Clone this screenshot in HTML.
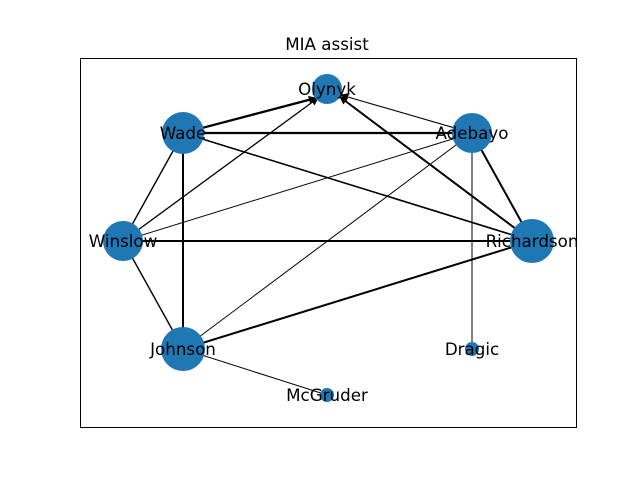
<!DOCTYPE html>
<html><head><meta charset="utf-8"><style>
html,body{margin:0;padding:0;background:#fff;}
svg{display:block;font-family:"DejaVu Sans","Liberation Sans",sans-serif;}
</style></head><body>
<svg width="640" height="480" viewBox="0 0 640 480" xmlns="http://www.w3.org/2000/svg">
<defs>
<marker id="b" viewBox="0 0 10 10" refX="9" refY="5" markerWidth="8" markerHeight="8" markerUnits="userSpaceOnUse" orient="auto">
<path d="M0,0 L10,5 L0,10 z" fill="#000"/></marker>
</defs>
<rect width="640" height="480" fill="#fff"/>
<text x="327" y="50" font-size="16.7" text-anchor="middle">MIA assist</text>
<rect x="80.5" y="58.5" width="496" height="369" fill="none" stroke="#000" stroke-width="1"/>
<g stroke="#000" fill="none">
<line x1="183" y1="133" x2="316" y2="98" stroke-width="2.2" marker-end="url(#b)"/>
<line x1="183" y1="133" x2="472" y2="133" stroke-width="2.2"/>
<line x1="183" y1="133" x2="123" y2="241" stroke-width="1.4"/>
<line x1="183" y1="133" x2="183" y2="349" stroke-width="2"/>
<line x1="183" y1="133" x2="532" y2="241" stroke-width="1.6"/>
<line x1="472" y1="133" x2="341" y2="95" stroke-width="1.1" marker-end="url(#b)"/>
<line x1="472" y1="133" x2="532" y2="241" stroke-width="2"/>
<line x1="472" y1="133" x2="123" y2="241" stroke-width="1"/>
<line x1="472" y1="133" x2="183" y2="349" stroke-width="1"/>
<line x1="472" y1="133" x2="472" y2="349" stroke-width="1"/>
<line x1="532" y1="241" x2="340" y2="97" stroke-width="2" marker-end="url(#b)"/>
<line x1="123" y1="241" x2="532" y2="241" stroke-width="2"/>
<line x1="183" y1="349" x2="532" y2="241" stroke-width="2"/>
<line x1="123" y1="241" x2="318" y2="98" stroke-width="1.3" marker-end="url(#b)"/>
<line x1="123" y1="241" x2="183" y2="349" stroke-width="1.4"/>
<line x1="183" y1="349" x2="327" y2="395" stroke-width="1"/>
</g>
<g fill="#1f77b4">
<circle cx="327" cy="89" r="15"/>
<circle cx="183" cy="133" r="21"/>
<circle cx="472" cy="133" r="20"/>
<circle cx="123" cy="241" r="20"/>
<circle cx="532" cy="241" r="22"/>
<circle cx="183" cy="349" r="22"/>
<circle cx="472" cy="349" r="7"/>
<circle cx="327" cy="395" r="7"/>
</g>
<g font-size="16.7" text-anchor="middle" fill="#000" dominant-baseline="central">
<text x="327" y="89">Olynyk</text>
<text x="183" y="133">Wade</text>
<text x="472" y="133">Adebayo</text>
<text x="123" y="241">Winslow</text>
<text x="532" y="241">Richardson</text>
<text x="183" y="349">Johnson</text>
<text x="472" y="349">Dragic</text>
<text x="327" y="395">McGruder</text>
</g>
</svg>
</body></html>
